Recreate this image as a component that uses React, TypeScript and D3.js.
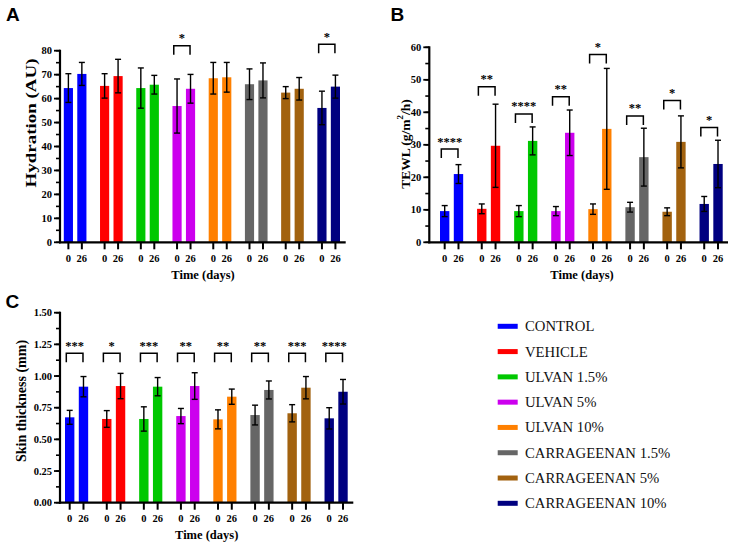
import React from "react";
import * as d3 from "d3";

const groups = ["CONTROL", "VEHICLE", "ULVAN 1.5%", "ULVAN 5%", "ULVAN 10%", "CARRAGEENAN 1.5%", "CARRAGEENAN 5%", "CARRAGEENAN 10%"];
const colors = ["#0000FF", "#FF0000", "#00C800", "#CC00EE", "#FF8000", "#666666", "#A2620F", "#000080"];
const days = ["0", "26"];

const hydrationDay0 = [64.4, 65.3, 64.4, 56.9, 68.5, 66.0, 62.5, 56.1];
const hydrationDay0Err = [6.0, 5.1, 8.4, 11.3, 6.6, 6.4, 2.5, 7.0];
const hydrationDay26 = [70.3, 69.4, 65.8, 64.1, 68.9, 67.6, 64.1, 65.0];
const hydrationDay26Err = [4.8, 7.0, 3.9, 6.0, 6.2, 7.3, 4.7, 4.8];
const hydrationSig = ["", "", "", "*", "", "", "", "*"];
const hydrationBracket = [null, null, null, 82.1, null, null, null, 82.7];

const tewlDay0 = [9.6, 10.3, 9.6, 9.6, 10.2, 10.8, 9.4, 11.8];
const tewlDay0Err = [1.7, 1.5, 1.7, 1.4, 1.6, 1.5, 1.2, 2.3];
const tewlDay26 = [21.0, 29.7, 31.2, 33.7, 34.9, 26.2, 30.9, 24.1];
const tewlDay26Err = [2.9, 12.8, 4.3, 7.0, 18.6, 8.9, 8.0, 7.3];
const tewlSig = ["****", "**", "****", "**", "*", "**", "*", "*"];
const tewlBracket = [28.7, 47.9, 39.5, 44.8, 57.8, 38.9, 43.6, 35.3];

const skinDay0 = [0.674, 0.661, 0.661, 0.684, 0.658, 0.692, 0.706, 0.666];
const skinDay0Err = [0.055, 0.066, 0.096, 0.06, 0.075, 0.078, 0.068, 0.084];
const skinDay26 = [0.916, 0.921, 0.916, 0.921, 0.837, 0.89, 0.908, 0.876];
const skinDay26Err = [0.08, 0.1, 0.072, 0.105, 0.06, 0.071, 0.088, 0.097];
const skinSig = ["***", "*", "***", "**", "**", "**", "***", "****"];
const skinBracket = [1.18, 1.18, 1.18, 1.18, 1.18, 1.18, 1.18, 1.18];

const SERIF = "'Liberation Serif', 'Times New Roman', serif";
const SANS = "'Liberation Sans', Arial, sans-serif";

type Cfg = {
  letter: string; lx: number; ly: number;
  axisX: number; xEnd: number; yTop: number; yBottom: number;
  domain: [number, number]; major: number; minor: number; fmt: (v: number) => string;
  barL: number; barR: number;
  yLabel: React.ReactNode; ylx: number; yly: number; ylSize: number; ylLen?: number;
  xlx: number; xly: number; tickBase: number;
};

function Panel({ cfg, d0, e0, d26, e26, sig, br }: any) {
  const c: Cfg = cfg;
  const y = d3.scaleLinear().domain(c.domain).range([c.yBottom, c.yTop]);
  const g = d3.scaleBand<string>().domain(groups).range([c.barL, c.barR]).paddingInner(0.375).paddingOuter(0);
  const inner = d3.scaleBand<string>().domain(days).range([0, g.bandwidth()]).paddingInner(0.32).paddingOuter(0);
  const bw = inner.bandwidth();
  const nMaj = Math.round((c.domain[1] - c.domain[0]) / c.major);
  const majors = d3.range(nMaj + 1).map((i) => c.domain[0] + i * c.major);
  const nMin = Math.round((c.domain[1] - c.domain[0]) / c.minor);
  const minors = d3.range(nMin + 1).map((i) => c.domain[0] + i * c.minor);
  const series = [
    { vals: d0, errs: e0, day: "0" },
    { vals: d26, errs: e26, day: "26" },
  ];
  return (
    <g>
      <text x={c.lx} y={c.ly} fontFamily={SANS} fontWeight="bold" fontSize={19}>{c.letter}</text>
      {groups.map((grp, i) =>
        series.map((s) => {
          const x = (g(grp) as number) + (inner(s.day) as number);
          const v = s.vals[i];
          const e = s.errs[i];
          const cx = x + bw / 2;
          return (
            <g key={grp + s.day}>
              <rect x={x} y={y(v)} width={bw} height={y(0) - y(v)} fill={colors[i]} />
              <line x1={cx} x2={cx} y1={y(v + e)} y2={y(v - e)} stroke="#000" strokeWidth={1.4} />
              <line x1={cx - 3} x2={cx + 3} y1={y(v + e)} y2={y(v + e)} stroke="#000" strokeWidth={1.4} />
              <line x1={cx - 3} x2={cx + 3} y1={y(v - e)} y2={y(v - e)} stroke="#000" strokeWidth={1.4} />
              <line x1={cx} x2={cx} y1={c.yBottom} y2={c.yBottom + 7} stroke="#000" strokeWidth={2} />
              <text x={cx} y={c.tickBase} textAnchor="middle" fontFamily={SERIF} fontWeight="bold" fontSize={10.5}>{s.day}</text>
            </g>
          );
        })
      )}
      {groups.map((grp, i) => {
        if (br[i] == null) return null;
        const x0 = (g(grp) as number) + (inner("0") as number) + 1.3;
        const x1 = (g(grp) as number) + (inner("26") as number) + bw / 2 - 0.5;
        const yb = y(br[i]);
        return (
          <g key={"br" + grp}>
            <path d={`M${x0},${yb + 9}V${yb}H${x1}V${yb + 9}`} fill="none" stroke="#000" strokeWidth={1.5} />
            <text x={(x0 + x1) / 2} y={yb - 3.5} textAnchor="middle" fontFamily={SERIF} fontWeight="bold" fontSize={12.5} fill="#000">{sig[i]}</text>
          </g>
        );
      })}
      {minors.map((t) => (
        <line key={"mn" + t} x1={c.axisX - 4} x2={c.axisX} y1={y(t)} y2={y(t)} stroke="#000" strokeWidth={1.6} />
      ))}
      {majors.map((t) => (
        <g key={"mj" + t}>
          <line x1={c.axisX - 6} x2={c.axisX} y1={y(t)} y2={y(t)} stroke="#000" strokeWidth={1.8} />
          <text x={c.axisX - 8} y={y(t)} dy="0.35em" textAnchor="end" fontFamily={SERIF} fontWeight="bold" fontSize={10.5}>{c.fmt(t)}</text>
        </g>
      ))}
      <line x1={c.axisX} x2={c.axisX} y1={c.yTop - 1} y2={c.yBottom + 1} stroke="#000" strokeWidth={2.2} />
      <line x1={c.axisX - 1} x2={c.xEnd} y1={c.yBottom} y2={c.yBottom} stroke="#000" strokeWidth={2.2} />
      <text
        x={c.ylx} y={c.yly} transform={`rotate(-90,${c.ylx},${c.yly})`} textAnchor="middle" dominantBaseline="central"
        fontFamily={SERIF} fontWeight="bold" fontSize={c.ylSize}
        {...(c.ylLen ? { textLength: c.ylLen, lengthAdjust: "spacingAndGlyphs" } : {})}
      >{c.yLabel}</text>
      <text x={c.xlx} y={c.xly} textAnchor="middle" fontFamily={SERIF} fontWeight="bold" fontSize={12.5}>Time (days)</text>
    </g>
  );
}

const cfgA: Cfg = {
  letter: "A", lx: 6, ly: 21, axisX: 60, xEnd: 345.7, yTop: 50.7, yBottom: 242.3,
  domain: [0, 80], major: 10, minor: 5, fmt: d3.format("d"), barL: 63.8, barR: 340,
  yLabel: "Hydration (AU)", ylx: 31.5, yly: 123, ylSize: 14, ylLen: 129, xlx: 203, xly: 279, tickBase: 261.5,
};
const cfgB: Cfg = {
  letter: "B", lx: 390.5, ly: 20.7, axisX: 429.3, xEnd: 728, yTop: 47.3, yBottom: 242.3,
  domain: [0, 60], major: 10, minor: 5, fmt: d3.format("d"), barL: 440, barR: 722.7,
  yLabel: (<>TEWL (g/m<tspan baselineShift="super" fontSize={9}>2</tspan>/h)</>), ylx: 405, yly: 144, ylSize: 13.5,
  xlx: 582, xly: 279, tickBase: 261.5,
};
const cfgC: Cfg = {
  letter: "C", lx: 5.5, ly: 308.3, axisX: 60, xEnd: 353.3, yTop: 312.7, yBottom: 502.7,
  domain: [0, 1.5], major: 0.25, minor: 0.125, fmt: d3.format(".2f"), barL: 65, barR: 347.7,
  yLabel: "Skin thickness (mm)", ylx: 21, yly: 401, ylSize: 14, xlx: 206.7, xly: 539, tickBase: 521.7,
};

export default function App() {
  const legendY = d3.scalePoint<string>().domain(groups).range([326.3, 503.3]);
  return (
    <svg width={733} height={548} style={{ position: "absolute", left: 0, top: 0, background: "#fff" }}>
      <rect width={733} height={548} fill="#fff" />
      <Panel cfg={cfgA} d0={hydrationDay0} e0={hydrationDay0Err} d26={hydrationDay26} e26={hydrationDay26Err} sig={hydrationSig} br={hydrationBracket} />
      <Panel cfg={cfgB} d0={tewlDay0} e0={tewlDay0Err} d26={tewlDay26} e26={tewlDay26Err} sig={tewlSig} br={tewlBracket} />
      <Panel cfg={cfgC} d0={skinDay0} e0={skinDay0Err} d26={skinDay26} e26={skinDay26Err} sig={skinSig} br={skinBracket} />
      {groups.map((grp, i) => {
        const cy = legendY(grp) as number;
        return (
          <g key={"lg" + grp}>
            <rect x={497.7} y={cy - 2.5} width={20} height={5} fill={colors[i]} />
            <text x={525} y={cy + 5} fontFamily={SERIF} fontSize={14.7} fill="#111">{grp}</text>
          </g>
        );
      })}
    </svg>
  );
}
